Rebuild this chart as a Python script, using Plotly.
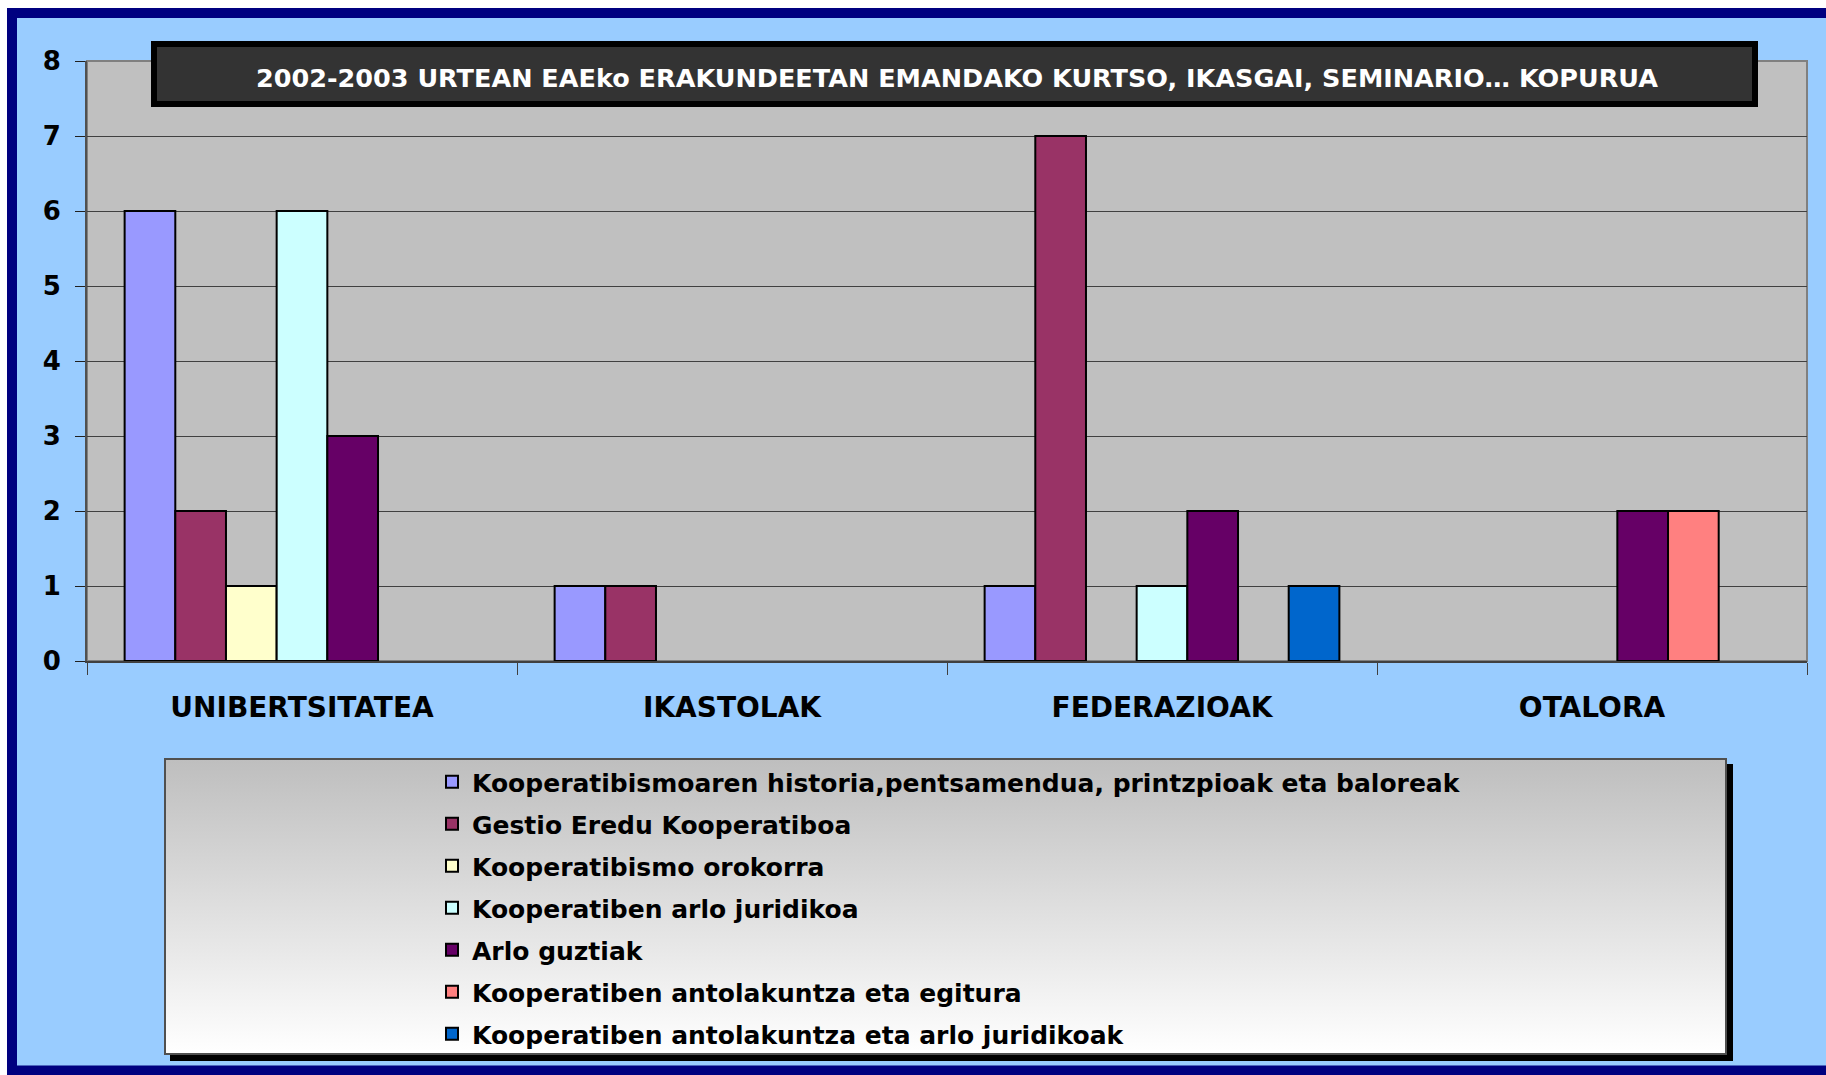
import base64
import plotly.graph_objects as go

# ---------------- data ----------------
categories = ["UNIBERTSITATEA", "IKASTOLAK", "FEDERAZIOAK", "OTALORA"]
series_names = [
    "Kooperatibismoaren historia,pentsamendua, printzpioak eta baloreak",
    "Gestio Eredu Kooperatiboa",
    "Kooperatibismo orokorra",
    "Kooperatiben arlo juridikoa",
    "Arlo guztiak",
    "Kooperatiben antolakuntza eta egitura",
    "Kooperatiben antolakuntza eta arlo juridikoak",
]
historia = [6, 1, 1, 0]
gestio = [2, 1, 7, 0]
orokorra = [1, 0, 0, 0]
juridikoa = [6, 0, 1, 0]
arlo_guztiak = [3, 0, 2, 2]
antolakuntza_egitura = [0, 0, 0, 2]
antolakuntza_juridikoak = [0, 0, 1, 0]
series_values = [historia, gestio, orokorra, juridikoa, arlo_guztiak,
                 antolakuntza_egitura, antolakuntza_juridikoak]
colors = ["#9999FF", "#993366", "#FFFFCC", "#CCFFFF", "#660066", "#FF8080", "#0066CC"]
y_tick_values = [0, 1, 2, 3, 4, 5, 6, 7, 8]
title_text = "2002-2003 URTEAN EAEko ERAKUNDEETAN EMANDAKO KURTSO, IKASGAI, SEMINARIO\u2026 KOPURUA"

# ---------------- geometry (pixels) ----------------
W, H = 1826, 1075


def px(x):
    return x / W


def py(y):
    return 1 - y / H


FONT = "DejaVu Sans"

fig = go.Figure()
for i, (name, vals, col) in enumerate(zip(series_names, series_values, colors)):
    fig.add_trace(go.Bar(
        x=categories,
        y=[v if v else None for v in vals],
        name=name,
        legendgroup=f"g{i}",
        marker=dict(color=col, line=dict(color="black", width=2)),
    ))

# legend box as gradient svg (with shadow and border)
lw, lh = 1733 - 164, 1061 - 758
svg = f'''<svg xmlns="http://www.w3.org/2000/svg" width="{lw}" height="{lh}" viewBox="0 0 {lw} {lh}" preserveAspectRatio="none">
<defs><linearGradient id="g" x1="0" y1="0" x2="0" y2="1">
<stop offset="0" stop-color="#BEBEBE"/><stop offset="1" stop-color="#FFFFFF"/></linearGradient></defs>
<rect x="6" y="6" width="{lw-6}" height="{lh-6}" fill="#000000"/>
<rect x="1" y="1" width="{lw-8}" height="{lh-8}" fill="url(#g)" stroke="#505050" stroke-width="2"/>
</svg>'''
src = "data:image/svg+xml;base64," + base64.b64encode(svg.encode()).decode()

shapes = [
    # white strips top/left
    dict(type="rect", xref="paper", yref="paper", x0=px(0), x1=px(W), y0=py(0), y1=py(8),
         fillcolor="white", line=dict(width=0), layer="below"),
    dict(type="rect", xref="paper", yref="paper", x0=px(0), x1=px(7), y0=py(0), y1=py(H),
         fillcolor="white", line=dict(width=0), layer="below"),
    # navy frame
    dict(type="rect", xref="paper", yref="paper", x0=px(12), x1=px(W + 20), y0=py(13), y1=py(1070.5),
         fillcolor="rgba(0,0,0,0)", line=dict(color="#000080", width=10), layer="below"),
    # plot border
    dict(type="rect", xref="paper", yref="paper", x0=px(87), x1=px(1807), y0=py(61), y1=py(661),
         fillcolor="rgba(0,0,0,0)", line=dict(color="#808080", width=2), layer="below"),
    # title box
    dict(type="rect", xref="paper", yref="paper", x0=px(154), x1=px(1755), y0=py(44), y1=py(104),
         fillcolor="#333333", line=dict(color="black", width=6), layer="above"),
]

fig.update_layout(
    width=W, height=H,
    margin=dict(l=0, r=0, t=0, b=0, autoexpand=False),
    paper_bgcolor="#99CCFF",
    plot_bgcolor="#C0C0C0",
    barmode="group",
    bargap=0.175,
    bargroupgap=0,
    showlegend=True,
    legend=dict(
        x=px(432), y=py(759), xanchor="left", yanchor="top",
        bgcolor="rgba(0,0,0,0)", borderwidth=0,
        font=dict(family=FONT, size=25, color="black", weight="bold"),
        traceorder="grouped", tracegroupgap=6.5,
    ),
    xaxis=dict(
        domain=[px(87), px(1807)],
        showgrid=False, zeroline=False,
        showline=True, linecolor="#404040", linewidth=2,
        ticks="outside", tickson="boundaries", ticklen=12, tickcolor="#404040", tickwidth=1,
        tickfont=dict(family=FONT, size=28, color="black", weight="bold"),
        ticklabelstandoff=20,
    ),
    yaxis=dict(
        domain=[py(661), py(61)],
        range=[0, 8], tickvals=y_tick_values, ticktext=[str(v) for v in y_tick_values],
        showgrid=True, gridcolor="#404040", gridwidth=1, zeroline=False,
        showline=True, linecolor="#505050", linewidth=2,
        ticks="outside", ticklen=10, tickcolor="#202020", tickwidth=1,
        tickfont=dict(family=FONT, size=26, color="black", weight="bold"),
        ticklabelstandoff=9,
    ),
    shapes=shapes,
    images=[dict(source=src, xref="paper", yref="paper", x=px(164), y=py(758),
                 sizex=px(lw), sizey=lh / H, sizing="stretch", xanchor="left", yanchor="top",
                 layer="below")],
    annotations=[dict(text=title_text, xref="paper", yref="paper", x=px(957), y=py(78),
                      xanchor="center", yanchor="middle", showarrow=False,
                      font=dict(family=FONT, size=25.5, color="white", weight="bold"))],
)

fig.write_html("out.html", config={"displayModeBar": False},
               post_script="document.body.style.margin='0';document.body.style.overflow='hidden';")
